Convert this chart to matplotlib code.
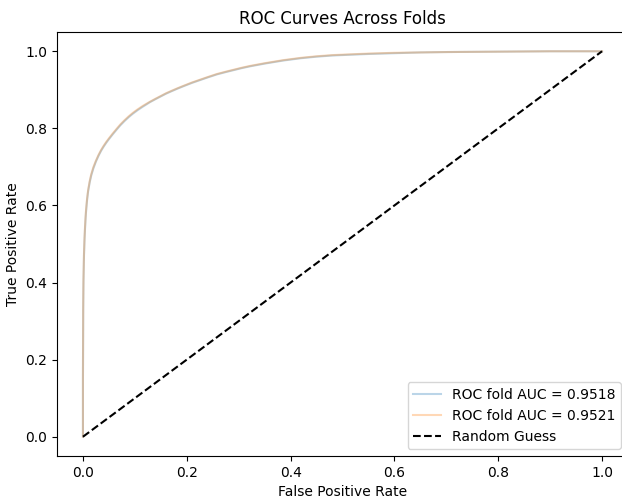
import matplotlib
matplotlib.use("Agg")
import matplotlib.pyplot as plt

fpr_fold1 = [0.0, 0.0, 0.0005, 0.001, 0.002, 0.003, 0.004, 0.005, 0.006, 0.008, 0.010,
             0.013, 0.016, 0.020, 0.025, 0.030, 0.035, 0.040, 0.045, 0.050, 0.057,
             0.065, 0.072, 0.080, 0.088, 0.096, 0.105, 0.115, 0.129, 0.140, 0.150,
             0.160, 0.170, 0.182, 0.193, 0.210, 0.225, 0.240, 0.258, 0.275, 0.290,
             0.305, 0.322, 0.350, 0.386, 0.420, 0.450, 0.480, 0.514, 0.550, 0.600,
             0.650, 0.700, 0.750, 0.800, 0.850, 0.900, 0.950, 1.0]
tpr_fold1 = [0.0, 0.15, 0.33, 0.40, 0.47, 0.51, 0.54, 0.565, 0.585, 0.615, 0.637,
             0.660, 0.678, 0.696, 0.714, 0.729, 0.742, 0.753, 0.763, 0.772, 0.784,
             0.797, 0.808, 0.819, 0.829, 0.838, 0.847, 0.856, 0.868, 0.876, 0.883,
             0.890, 0.896, 0.903, 0.909, 0.918, 0.925, 0.932, 0.940, 0.946, 0.951,
             0.956, 0.961, 0.968, 0.976, 0.982, 0.986, 0.989, 0.991, 0.993, 0.995,
             0.997, 0.998, 0.9985, 0.999, 0.9995, 1.0, 1.0, 1.0]
fpr_fold2 = list(fpr_fold1)
tpr_fold2 = [0.0, 0.16, 0.34, 0.41, 0.475, 0.515, 0.545, 0.569, 0.589, 0.618, 0.640,
             0.663, 0.681, 0.699, 0.716, 0.731, 0.744, 0.755, 0.765, 0.774, 0.786,
             0.799, 0.810, 0.821, 0.831, 0.840, 0.849, 0.858, 0.869, 0.877, 0.884,
             0.891, 0.897, 0.904, 0.910, 0.919, 0.926, 0.933, 0.941, 0.947, 0.952,
             0.957, 0.962, 0.969, 0.977, 0.983, 0.987, 0.990, 0.992, 0.994, 0.996,
             0.997, 0.998, 0.9985, 0.999, 0.9995, 1.0, 1.0, 1.0]
auc_values = [0.9518, 0.9521]

fig = plt.figure(figsize=(6.22, 4.98), dpi=100)
ax = fig.add_axes([57/622, 42/498, 571/622, 424/498])

ax.plot(fpr_fold1, tpr_fold1, color="tab:blue", alpha=0.3, lw=1.5,
        label=f"ROC fold AUC = {auc_values[0]:.4f}")
ax.plot(fpr_fold2, tpr_fold2, color="tab:orange", alpha=0.3, lw=1.5,
        label=f"ROC fold AUC = {auc_values[1]:.4f}")
ax.plot([0, 1], [0, 1], "k--", label="Random Guess")

ax.set_title("ROC Curves Across Folds")
ax.set_xlabel("False Positive Rate")
ax.set_ylabel("True Positive Rate")
ax.legend(loc="lower right")

fig.savefig("out.png", dpi=100)
